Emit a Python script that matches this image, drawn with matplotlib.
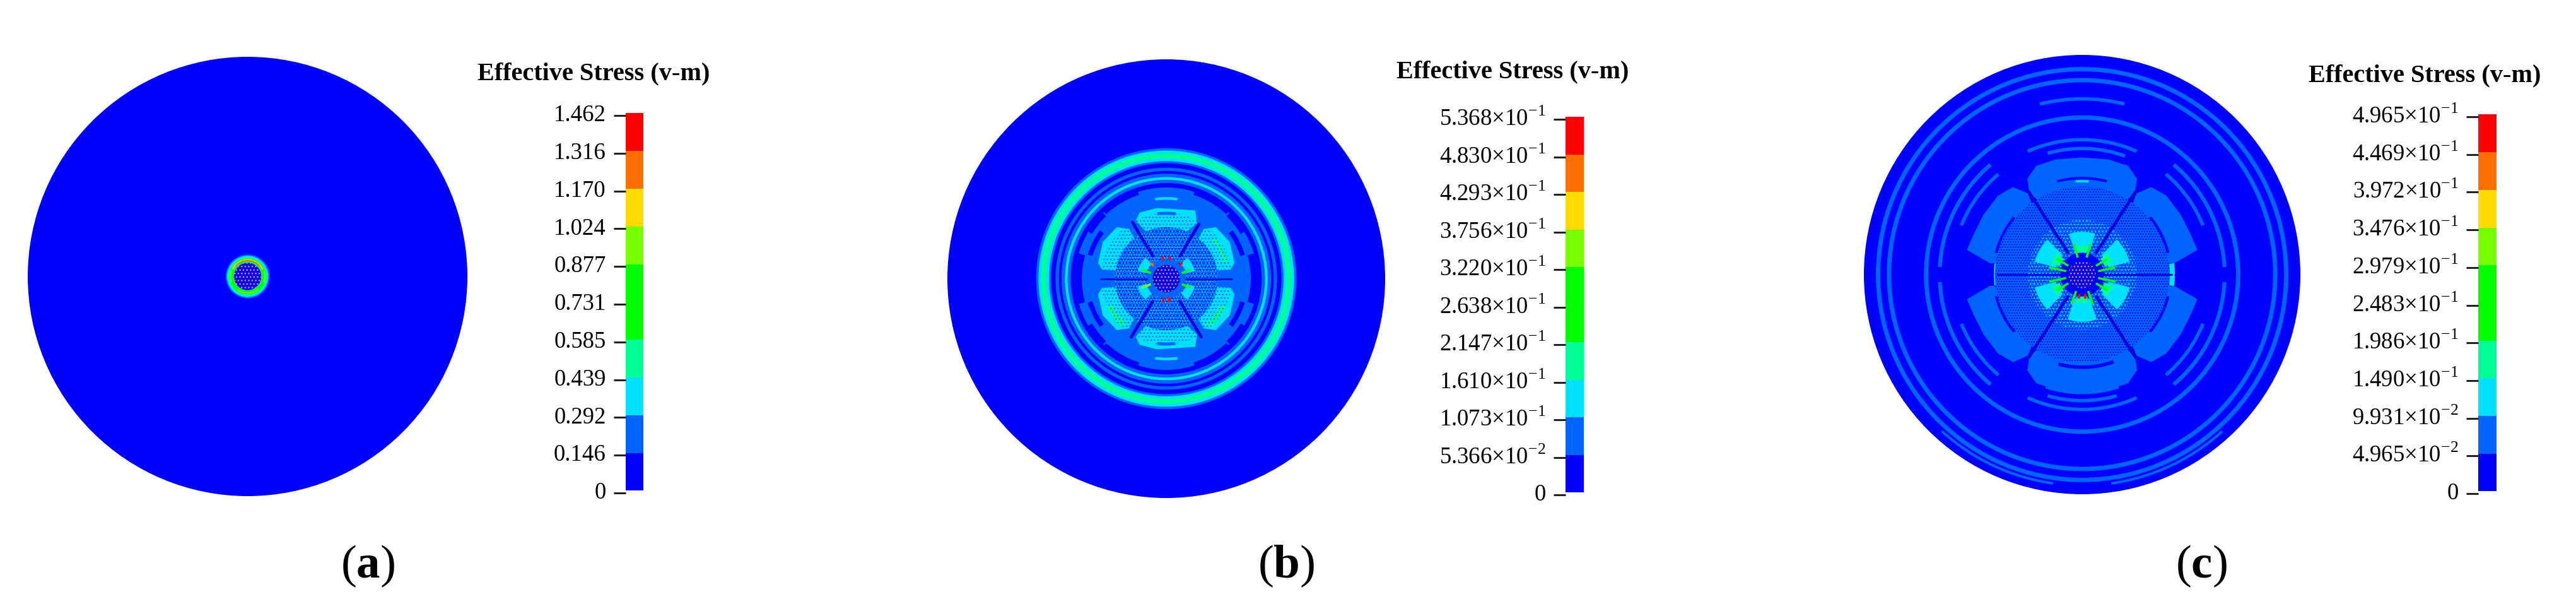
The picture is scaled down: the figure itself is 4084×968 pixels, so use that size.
import math

import matplotlib
matplotlib.use("Agg")
import matplotlib.pyplot as plt
from matplotlib.patches import Circle, Polygon, Rectangle, Wedge
from matplotlib.transforms import ScaledTranslation

plt.rcParams["font.family"] = ["Liberation Serif", "DejaVu Serif"]
plt.rcParams["mathtext.fontset"] = "custom"
plt.rcParams["mathtext.rm"] = "Liberation Serif"
plt.rcParams["mathtext.bf"] = "Liberation Serif:bold"
plt.rcParams["hatch.linewidth"] = 1.0

W, H = 4084, 968

# contour colours, low to high, then the two colours of the core
LEVEL_COLORS = ["#0000ff", "#0064ff", "#00e0ff", "#00ff96", "#00ff00", "#00ff00",
                "#78ff00", "#ffdc00", "#ff6e00", "#ff0000", "#1400d8", "#b0a8ff"]
TITLE = "Effective Stress (v-m)"

LABELS_A = ["0", "0.146", "0.292", "0.439", "0.585", "0.731",
            "0.877", "1.024", "1.170", "1.316", "1.462"]
LABELS_B = ["0", "5.366×10$^{-2}$", "1.073×10$^{-1}$", "1.610×10$^{-1}$", "2.147×10$^{-1}$",
            "2.638×10$^{-1}$", "3.220×10$^{-1}$", "3.756×10$^{-1}$", "4.293×10$^{-1}$",
            "4.830×10$^{-1}$", "5.368×10$^{-1}$"]
LABELS_C = ["0", "4.965×10$^{-2}$", "9.931×10$^{-2}$", "1.490×10$^{-1}$", "1.986×10$^{-1}$",
            "2.483×10$^{-1}$", "2.979×10$^{-1}$", "3.476×10$^{-1}$", "3.972×10$^{-1}$",
            "4.469×10$^{-1}$", "4.965×10$^{-1}$"]

# nested contours: (radius, level), outermost first
RINGS_A = [(1.0, 0), (0.100, 1), (0.094, 2), (0.088, 3), (0.082, 4), (0.066, 3), (0.061, 1)]
RINGS_B = [(1.0, 0), (0.595, 1), (0.584, 2), (0.571, 3), (0.549, 2), (0.536, 1), (0.526, 0),
           (0.506, 1), (0.491, 0), (0.479, 1), (0.463, 2), (0.451, 1), (0.436, 0), (0.416, 1)]
RINGS_C = [(1.0, 0), (0.945, 1), (0.925, 0), (0.895, 1), (0.875, 0), (0.725, 1), (0.705, 0)]

# lobe outlines as (angle, radius); the top one is mirrored down, the side one to all four corners
TOP_LOBE_B = [(118, 0.299), (112, 0.325), (98, 0.325), (80, 0.321), (67, 0.338), (61, 0.290),
              (68, 0.220), (90, 0.215), (112, 0.220)]
SIDE_LOBE_B = [(53, 0.284), (46, 0.326), (30, 0.335), (13, 0.320), (8, 0.296), (10, 0.200),
               (32, 0.190), (50, 0.200)]
TOP_LOBE_C = [(123, 0.444), (120, 0.503), (113, 0.538), (103, 0.538), (90, 0.533), (77, 0.538),
              (67, 0.538), (60, 0.503), (57, 0.444), (65, 0.300), (90, 0.300), (115, 0.300)]
SIDE_LOBE_C = [(56, 0.446), (51.5, 0.509), (43, 0.527), (31, 0.528), (20, 0.530), (12, 0.540),
               (7, 0.426), (9, 0.300), (30, 0.300), (50, 0.300)]

# partial contours: (outer radius, width, start angle, end angle, level)
ARCS_A = [(0.079, 0.007, 25, 155, 7), (0.075, 0.005, 40, 140, 8), (0.079, 0.006, 230, 310, 6),
          (0.081, 0.006, 160, 200, 6), (0.081, 0.006, 340, 380, 6)]
ARCS_B = [(0.416, 0.014, 47, 72, 0), (0.416, 0.014, 108, 133, 0), (0.416, 0.014, 227, 252, 0),
          (0.416, 0.014, 288, 313, 0), (0.375, 0.022, 17, 36, 0), (0.375, 0.022, 144, 163, 0),
          (0.375, 0.022, 197, 216, 0), (0.375, 0.022, 324, 343, 0), (0.416, 0.030, -16, 16, 0),
          (0.416, 0.030, 164, 196, 0), (0.416, 0.020, 31, 46, 0), (0.416, 0.020, 134, 149, 0),
          (0.416, 0.020, 211, 226, 0), (0.416, 0.020, 314, 329, 0),
          (0.300, 0.026, 312, 335, 3), (0.300, 0.026, 205, 228, 3), (0.290, 0.018, 15, 40, 3),
          (0.372, 0.012, 82, 98, 2), (0.372, 0.012, 262, 278, 2),
          (0.305, 0.014, 82, 98, 1), (0.305, 0.014, 262, 278, 1)]
ARCS_C = [(0.808, 0.016, 76, 104, 1), (0.966, 0.012, 228, 262, 1), (0.966, 0.012, 278, 312, 1),
          (0.662, 0.018, 3, 50, 1), (0.662, 0.018, 130, 177, 1),
          (0.662, 0.018, 183, 230, 1), (0.662, 0.018, 310, 357, 1),
          (0.622, 0.016, 66, 114, 1), (0.622, 0.016, 246, 294, 1),
          (0.605, 0.016, 22, 50, 1), (0.605, 0.016, 130, 158, 1),
          (0.605, 0.016, 202, 230, 1), (0.605, 0.016, 310, 338, 1),
          (0.582, 0.016, 70, 106, 1), (0.582, 0.016, 254, 286, 1),
          (0.545, 0.014, 252, 288, 1),
          (0.445, 0.012, 75, 105, 0), (0.400, 0.018, 68, 100, 0), (0.412, 0.052, 14, 40, 0),
          (0.412, 0.052, 140, 166, 0), (0.412, 0.052, 194, 220, 0), (0.412, 0.052, 320, 346, 0),
          (0.430, 0.016, 255, 290, 0), (0.395, 0.014, 262, 300, 0),
          (0.425, 0.024, 353, 367, 2), (0.405, 0.024, 173, 187, 2), (0.43, 0.010, 86, 94, 2)]

# speckled bands: (outer radius, width, ground level or None, speck level, hatch)
SPECKS_A = []
SPECKS_B = [(0.235, 0.145, 1, 2, "...."), (0.235, 0.145, None, 0, "..."),
            (0.300, 0.065, None, 1, "...")]
SPECKS_C = [(0.400, 0.300, 1, 0, "...."), (0.250, 0.150, None, 2, "...")]

# bright sectors close to the core: (outer radius, width, start, end, level)
GLOW_A = []
GLOW_B = [(0.135, 0.040, 15, 45, 2), (0.135, 0.040, 135, 165, 2), (0.135, 0.040, 195, 225, 2),
          (0.135, 0.040, 315, 345, 2)]
GLOW_C = [(0.225, 0.100, 15, 45, 2), (0.225, 0.100, 135, 165, 2), (0.225, 0.100, 195, 225, 2),
          (0.225, 0.100, 315, 345, 2), (0.195, 0.085, 72, 108, 2), (0.215, 0.100, 252, 288, 2),
          (0.150, 0.040, 20, 40, 3), (0.150, 0.040, 140, 160, 3), (0.150, 0.040, 200, 220, 3),
          (0.150, 0.040, 320, 340, 3), (0.130, 0.030, 78, 102, 3), (0.130, 0.030, 258, 282, 3)]

# dark spokes: (angle, inner radius, outer radius)
SPOKES_B = [(0, 0.09, 0.30), (59, 0.12, 0.29), (121, 0.12, 0.30), (180, 0.09, 0.30),
            (239, 0.12, 0.31), (301, 0.12, 0.31)]
SPOKES_C = [(0, 0.10, 0.41), (57, 0.12, 0.45), (123, 0.12, 0.45), (180, 0.10, 0.39),
            (237, 0.12, 0.45), (303, 0.12, 0.45)]

# short hot streaks next to the core: (angle, inner radius, outer radius, level)
RAYS_A = []
RAYS_B = [(20, 0.08, 0.115, 4), (45, 0.088, 0.098, 9), (80, 0.09, 0.10, 9), (100, 0.09, 0.10, 9),
          (160, 0.08, 0.115, 4), (200, 0.08, 0.115, 6), (262, 0.09, 0.105, 9), (278, 0.09, 0.105, 9),
          (340, 0.08, 0.115, 4), (135, 0.088, 0.098, 8)]
RAYS_C = [(12, 0.08, 0.15, 4), (32, 0.08, 0.13, 4), (148, 0.08, 0.13, 4), (168, 0.08, 0.15, 4),
          (192, 0.08, 0.15, 4), (212, 0.08, 0.13, 4), (328, 0.08, 0.13, 4), (348, 0.08, 0.15, 4),
          (262, 0.095, 0.105, 9), (278, 0.095, 0.105, 9), (250, 0.085, 0.14, 4), (290, 0.085, 0.14, 4),
          (75, 0.085, 0.14, 4), (105, 0.085, 0.14, 4)]

CORE_RADIUS = 0.0625


def px_axes(fig, x0, y0, x1, y1):
    return fig.add_axes([x0 / W, 1 - y1 / H, (x1 - x0) / W, (y1 - y0) / H])


def polar(angle, r):
    a = math.radians(angle)
    return r * math.cos(a), r * math.sin(a)


def mirrored_lobes(top, side):
    lobes = [top, [(-a, r) for a, r in top]]
    lobes += [side, [(-a, r) for a, r in side], [(180 - a, r) for a, r in side],
              [(180 + a, r) for a, r in side]]
    return lobes


def draw_disc(ax, rings, lobes, lobe_level, arcs, specks, glow, spokes, rays):
    for r, level in rings:
        ax.add_patch(Circle((0, 0), r, fc=LEVEL_COLORS[level], ec="none"))
    for lobe in lobes:
        ax.add_patch(Polygon([polar(a, r) for a, r in lobe], fc=LEVEL_COLORS[lobe_level], ec="none"))
    for r, w, t1, t2, level in arcs:
        ax.add_patch(Wedge((0, 0), r, t1, t2, width=w, fc=LEVEL_COLORS[level], ec="none"))
    for r, w, ground, speck, hatch in specks:
        fc = "none" if ground is None else LEVEL_COLORS[ground]
        ax.add_patch(Wedge((0, 0), r, 0, 360, width=w, fc=fc,
                           ec=LEVEL_COLORS[speck], hatch=hatch, lw=0))
    for r, w, t1, t2, level in glow:
        ax.add_patch(Wedge((0, 0), r, t1, t2, width=w, fc=LEVEL_COLORS[level], ec="none"))
    for angle, r0, r1 in spokes:
        xs, ys = zip(polar(angle, r0), polar(angle, r1))
        ax.plot(xs, ys, color=LEVEL_COLORS[10], lw=2 if angle % 180 == 0 else 3.5,
                solid_capstyle="round")
    for angle, r0, r1, level in rays:
        xs, ys = zip(polar(angle, r0), polar(angle, r1))
        ax.plot(xs, ys, color=LEVEL_COLORS[level], lw=2.5)
    ax.add_patch(Circle((0, 0), CORE_RADIUS, fc=LEVEL_COLORS[10], ec=LEVEL_COLORS[11],
                        hatch="...", lw=0))
    ax.set_xlim(-1, 1)
    ax.set_ylim(-1, 1)
    ax.axis("off")


def draw_scale(ax, labels):
    for i in range(len(labels) - 1):
        # the colour blocks sit slightly above their tick marks
        ax.add_patch(Rectangle((0, i + 0.06), 1, 1, fc=LEVEL_COLORS[i], ec="none", clip_on=False))
    ax.set_xlim(0, 1)
    ax.set_ylim(0, len(labels) - 1)
    ax.set_xticks([])
    ax.set_yticks(range(len(labels)))
    ax.set_yticklabels(labels, fontsize=26.5)
    ax.tick_params(axis="y", length=13.5, width=2.2, color="#222222", pad=9)
    for spine in ax.spines.values():
        spine.set_visible(False)
    up = ScaledTranslation(0, 4 / 100, ax.figure.dpi_scale_trans)
    for lab in ax.get_yticklabels():
        lab.set_transform(lab.get_transform() + up)


fig = plt.figure(figsize=(W / 100, H / 100), dpi=100)

draw_disc(px_axes(fig, 44, 90, 741, 786), RINGS_A, [], 2, ARCS_A, SPECKS_A, GLOW_A, [], RAYS_A)
draw_disc(px_axes(fig, 1502, 94, 2196, 789), RINGS_B, mirrored_lobes(TOP_LOBE_B, SIDE_LOBE_B), 2,
          ARCS_B, SPECKS_B, GLOW_B, SPOKES_B, RAYS_B)
draw_disc(px_axes(fig, 2955, 87, 3647, 783), RINGS_C, mirrored_lobes(TOP_LOBE_C, SIDE_LOBE_C), 1,
          ARCS_C, SPECKS_C, GLOW_C, SPOKES_C, RAYS_C)

draw_scale(px_axes(fig, 992, 183, 1020, 781), LABELS_A)
draw_scale(px_axes(fig, 2482, 189, 2511, 784), LABELS_B)
draw_scale(px_axes(fig, 3929, 185, 3958, 782), LABELS_C)

for x, y in [(757, 117), (2214, 114), (3660, 120)]:
    fig.text(x / W, 1 - y / H, TITLE, fontsize=29, fontweight="bold", va="center", ha="left")
for x, name in [(583, "a"), (2039, "b"), (3490, "c")]:
    fig.text(x / W, 1 - 897 / H, "($\\mathbf{" + name + "}$)", fontsize=54, va="center", ha="center")

fig.savefig("out.png", dpi=100)
